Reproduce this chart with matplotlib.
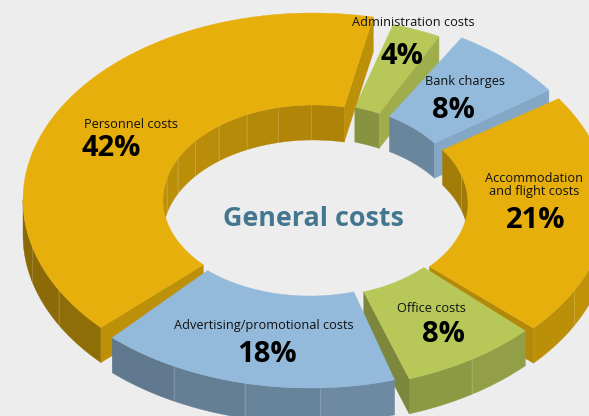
import numpy as np
import matplotlib
matplotlib.use("Agg")
import matplotlib.pyplot as plt
from matplotlib.patches import Polygon

names = ["Personnel costs", "Advertising/promotional costs", "Office costs",
         "Accommodation\nand flight costs", "Bank charges", "Administration costs"]
shares = [42, 18, 8, 21, 8, 4]
colors = ["#E6AF0B", "#93BADB", "#B7C758", "#E6AF0B", "#93BADB", "#B7C758"]

# layout, in pixels of the 589x416 picture
start = 78.0
rx_out, ry_out = 290, 187
rx_in, ry_in = 150, 95
depth = 35
# small corrections to the angle of each end of a slice, and the centre of each slice
trim_a = [0, -0.7, -2.9, -2.4, 0, -0.8]
trim_b = [-4.7, -4.9, -3.9, -1.3, -4.8, -5]
centre = [(313, 200), (310, 201), (315, 202), (318, 203), (312, 198), (311, 198)]
outer_k = [1, 1, 1, 1, 1, 0.97]
cut_shade = [0.82, 0.88, 0.68, 0.78, 0.90, 0.87]
draw_order = [5, 4, 0, 3, 2, 1]
label_pos = [(131, 125), (264, 326), (431, 308), (534, 185), (465, 82), (413, 22)]
pct_pos = [(111, 148), (267, 354), (443, 335), (536, 220), (453, 110), (402, 57)]

plt.rcParams['font.family'] = ['Open Sans', 'DejaVu Sans']

fig = plt.figure(figsize=(5.89, 4.16), dpi=100, facecolor="#EDEDED")
ax = fig.add_axes([0, 0, 1, 1])
ax.set_xlim(0, 589)
ax.set_ylim(416, 0)
ax.axis("off")


def shade(col, k):
    return tuple(np.array(matplotlib.colors.to_rgb(col)) * k)


def arc(cx, cy, rx, ry, t):
    return np.column_stack([cx + rx * np.cos(t), cy - ry * np.sin(t)])


def wall(cx, cy, rx, ry, t0, t1, col, inner):
    # one facet every 12 degrees or so, with a pale seam where the facets meet
    n = max(1, int((t1 - t0) / 12))
    edges = np.radians(np.linspace(t0, t1, n + 1))
    for j, (a, b) in enumerate(zip(edges[:-1], edges[1:])):
        t = np.linspace(a, b, 12)
        top = arc(cx, cy, rx, ry, t)
        bot = top[::-1] + [0, depth]
        mid = (a + b) / 2
        k = 0.76 - 0.06 * np.cos(mid) if inner else 0.72 + 0.12 * np.cos(mid)
        c = shade(col, k)
        ax.add_patch(Polygon(np.vstack([top, bot]), closed=True, fc=c, ec=c, lw=0.3))
        if j > 0:
            ax.plot([top[0, 0], top[0, 0]], [top[0, 1], top[0, 1] + depth], color="white", alpha=0.18, lw=0.6)


def cut(cx, cy, t, rx, ry, col, k):
    a = arc(cx, cy, rx_in, ry_in, np.radians([t]))[0]
    b = arc(cx, cy, rx, ry, np.radians([t]))[0]
    c = shade(col, k)
    ax.add_patch(Polygon([a, b, b + [0, depth], a + [0, depth]], closed=True, fc=c, ec=c, lw=0.3))


scale = 360.0 / sum(shares)
ends = start + np.cumsum(shares) * scale
begins = ends - np.array(shares) * scale

for i in draw_order:
    t0 = begins[i] + trim_a[i]
    t1 = ends[i] + trim_b[i]
    cx, cy = centre[i]
    col = colors[i]
    rx = rx_out * outer_k[i]
    ry = ry_out * outer_k[i]

    # walls only where they face the viewer
    for w0, w1, inner in [(0, 180, True), (360, 540, True), (180, 360, False), (540, 720, False)]:
        a, b = max(t0, w0), min(t1, w1)
        if b > a:
            if inner:
                wall(cx, cy, rx_in, ry_in, a, b, col, True)
            else:
                wall(cx, cy, rx, ry, a, b, col, False)
    if np.cos(np.radians(t0)) > 0:
        cut(cx, cy, t0, rx, ry, col, cut_shade[i])
    if np.cos(np.radians(t1)) < 0:
        cut(cx, cy, t1, rx, ry, col, cut_shade[i])

    t = np.radians(np.linspace(t0, t1, 120))
    ring = np.vstack([arc(cx, cy, rx, ry, t), arc(cx, cy, rx_in, ry_in, t[::-1])])
    ax.add_patch(Polygon(ring, closed=True, fc=col, ec=col, lw=0.3))

for i in range(len(names)):
    ax.text(label_pos[i][0], label_pos[i][1], names[i], ha="center", va="center",
            fontsize=9.2, color="#111111", linespacing=1.0)
    ax.text(pct_pos[i][0], pct_pos[i][1], str(shares[i]) + "%", ha="center", va="center",
            fontsize=21, fontweight="bold", color="black")

ax.text(313, 219, "General costs", ha="center", va="center", fontsize=19.4,
        fontweight="bold", color="#44778F")

fig.savefig("out.png", dpi=100, facecolor=fig.get_facecolor())
